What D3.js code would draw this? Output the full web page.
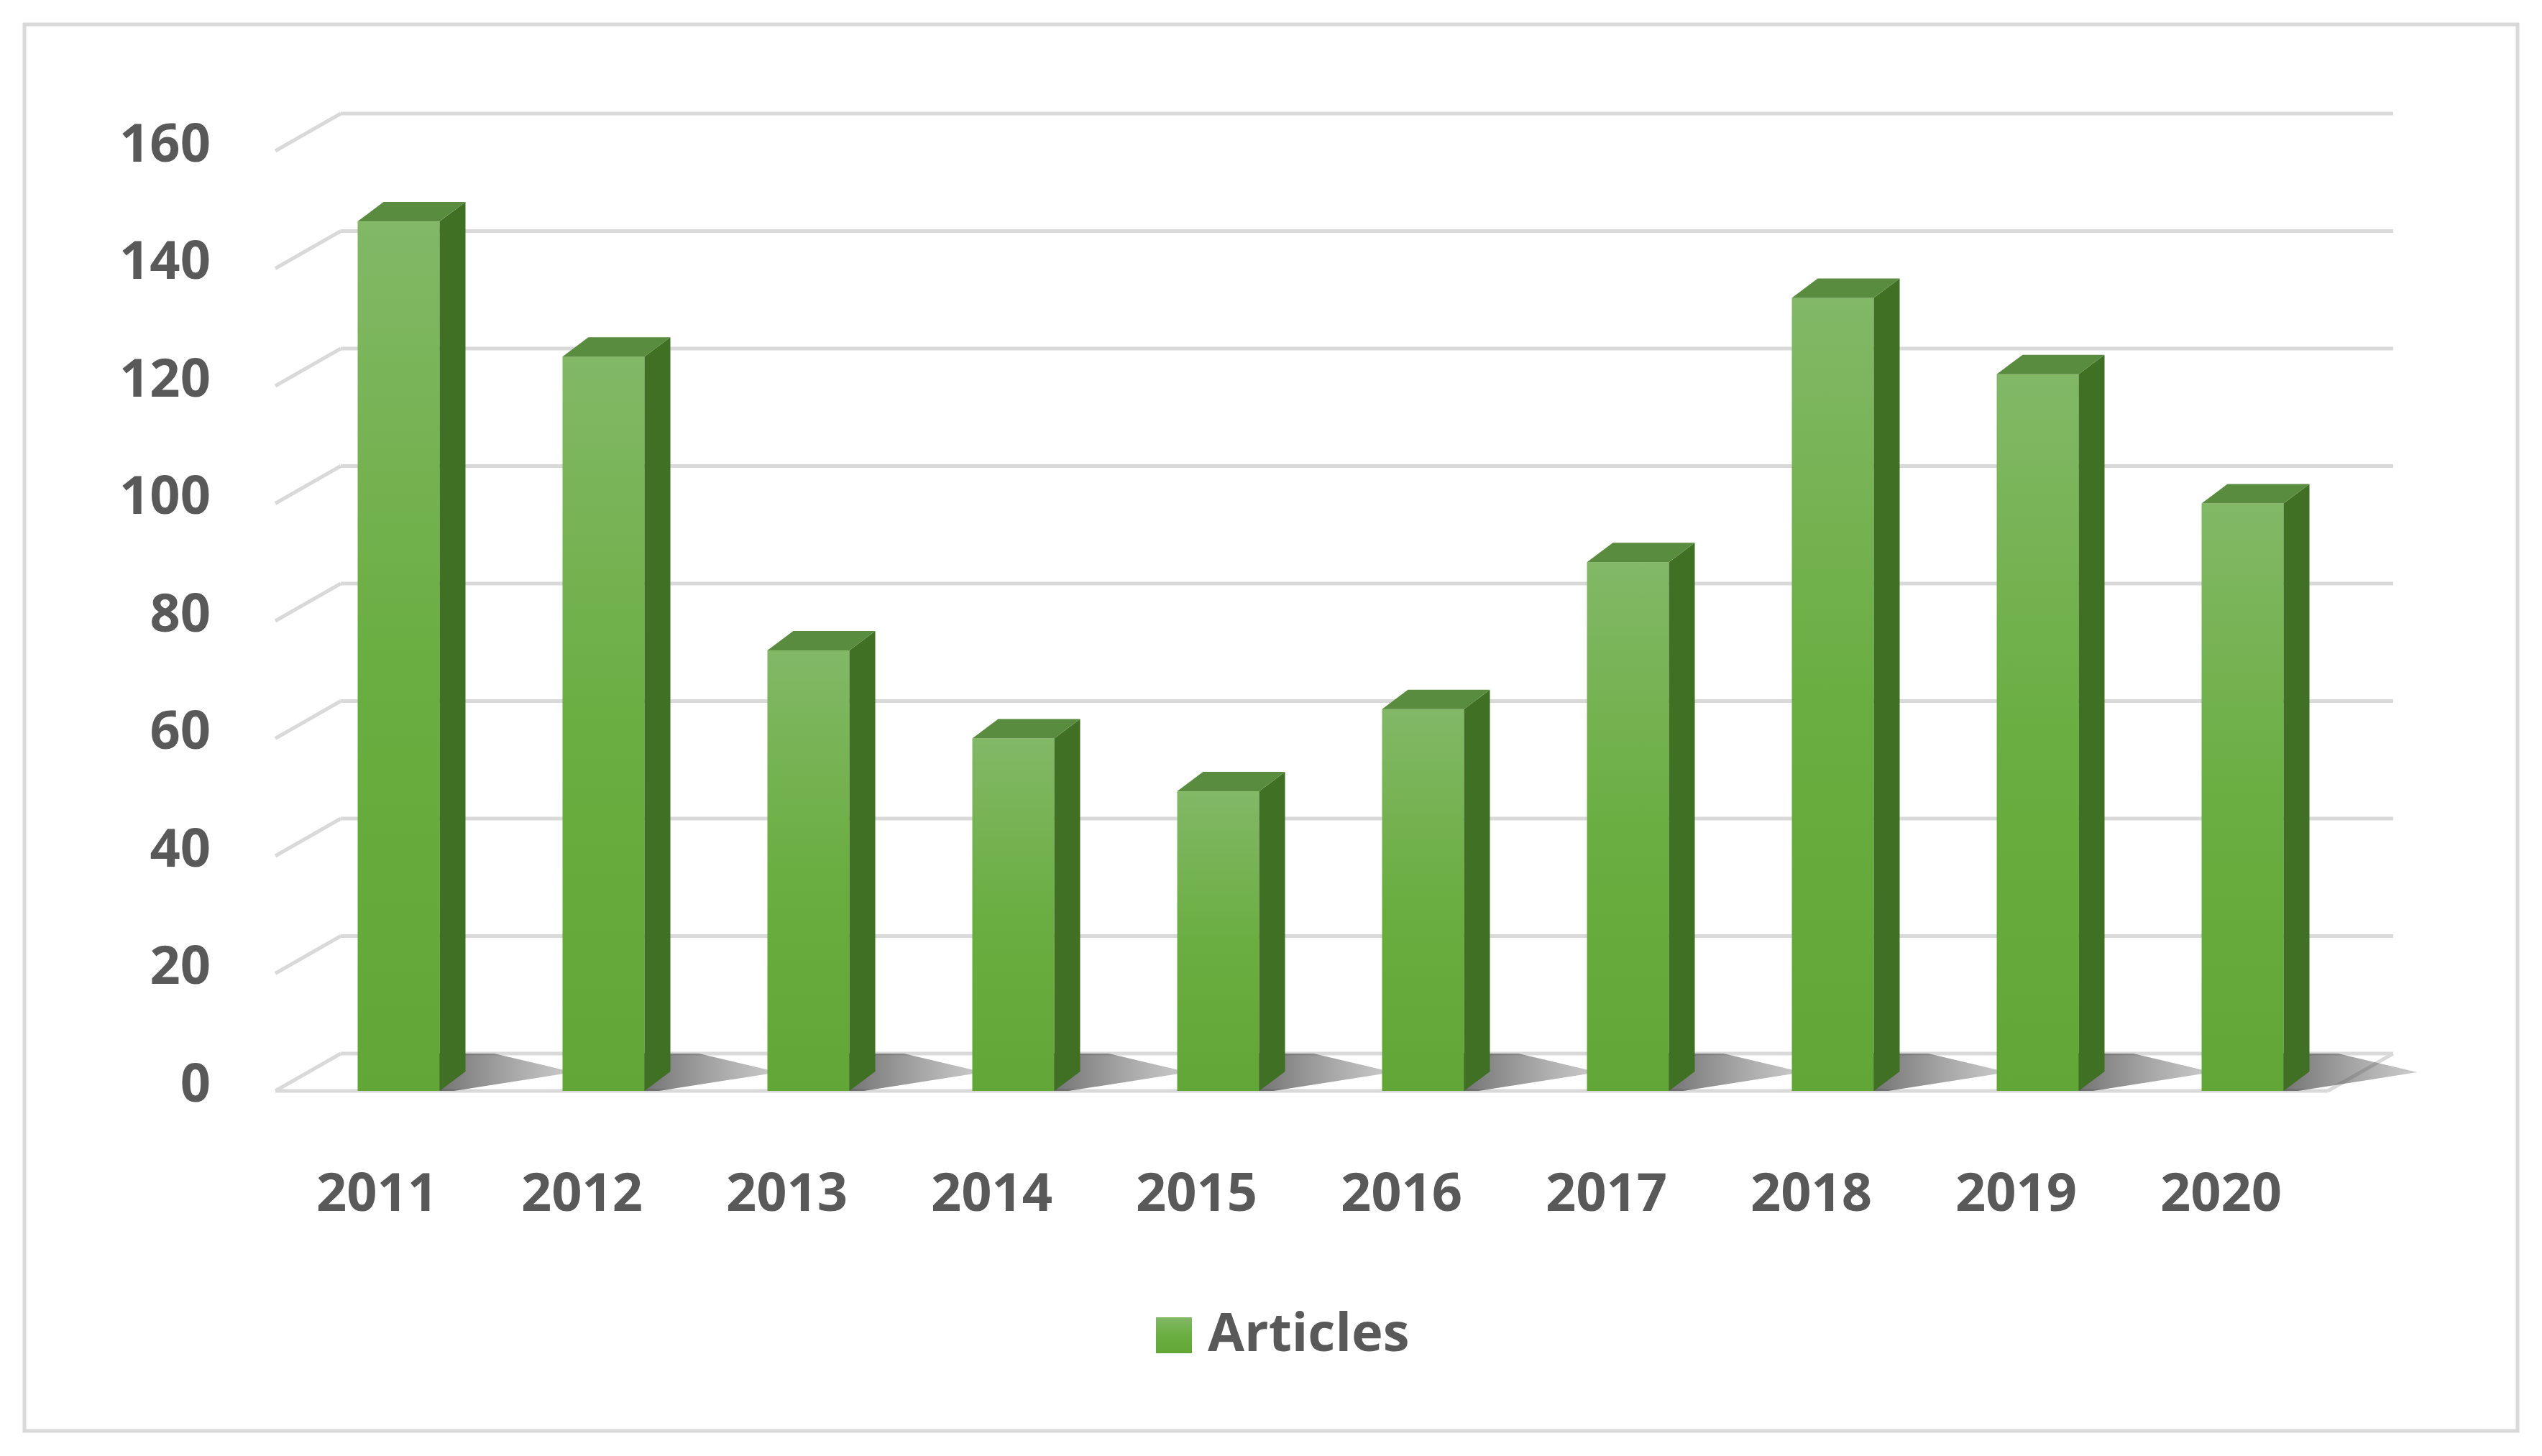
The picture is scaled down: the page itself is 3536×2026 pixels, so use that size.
<!DOCTYPE html>
<html><head><meta charset="utf-8">
<script src="https://cdn.jsdelivr.net/npm/d3@7"></script>
<style>body{margin:0;background:#fff}</style></head>
<body><svg id="c" width="3536" height="2026"></svg>
<script>
const years=["2011","2012","2013","2014","2015","2016","2017","2018","2019","2020"];
const articles=[148,125,75,60,51,65,90,135,122,100];
const yTicks=[0,20,40,60,80,100,120,140,160];
const seriesName="Articles";

const svg=d3.select("#c");
const font="'Open Sans','Noto Sans',sans-serif", tc="#595959";
svg.append("rect").attr("x",34).attr("y",34).attr("width",3468).attr("height",1957).attr("fill","#fff").attr("stroke","#d9d9d9").attr("stroke-width",5);
const defs=svg.append("defs");
const g1=defs.append("linearGradient").attr("id","fr").attr("x1",0).attr("y1",0).attr("x2",0).attr("y2",1);
g1.append("stop").attr("offset",0).attr("stop-color","#82b866");
g1.append("stop").attr("offset",0.5).attr("stop-color","#6aae41");
g1.append("stop").attr("offset",1).attr("stop-color","#62a637");
const g2=defs.append("linearGradient").attr("id","sh").attr("x1",0).attr("y1",0).attr("x2",1).attr("y2",0);
g2.append("stop").attr("offset",0).attr("stop-color","#222").attr("stop-opacity",0.9);
g2.append("stop").attr("offset",1).attr("stop-color","#555").attr("stop-opacity",0.3);

const dx=-91,dy=52; // back->front offset
const yBack=d3.scaleLinear().domain([0,160]).range([1466,158]);
const yFront=d3.scaleLinear().domain([0,160]).range([1466+dy,158+dy]);
const x=d3.scaleBand().domain(years).range([412,3262]).paddingInner(0.6).paddingOuter(0.3);
const bx0=474,bx1=3329;
const gc="#d9d9d9";
yTicks.forEach(t=>{
  const y=yBack(t);
  svg.append("line").attr("x1",bx0).attr("x2",bx1).attr("y1",y).attr("y2",y).attr("stroke",gc).attr("stroke-width",5);
  svg.append("line").attr("x1",bx0).attr("x2",bx0+dx).attr("y1",y).attr("y2",y+dy).attr("stroke",gc).attr("stroke-width",5);
  svg.append("text").attr("x",293).attr("y",yFront(t)-5).attr("text-anchor","end").attr("dominant-baseline","middle")
    .attr("font-family",font).attr("font-weight","bold").attr("font-size",74).attr("fill",tc).text(t);
});
// floor
svg.append("line").attr("x1",bx0+dx).attr("x2",bx1+dx).attr("y1",yFront(0)).attr("y2",yFront(0)).attr("stroke",gc).attr("stroke-width",5);
svg.append("line").attr("x1",bx1).attr("x2",bx1+dx).attr("y1",yBack(0)).attr("y2",yFront(0)).attr("stroke",gc).attr("stroke-width",5);
const sx=36,sy=-27,w=x.bandwidth();
const bars=svg.selectAll("g.b").data(years.map((y,i)=>({y,v:articles[i]}))).join("g");
// shadows
bars.append("path").attr("fill","url(#sh)").attr("d",d=>{
  const l=x(d.y),b=yFront(0);
  return `M${l+10},${b} L${l+w+20},${b} L${l+w+sx+150},${b-26} L${l+w+sx+40},${b-52} L${l+sx},${b-52} Z`;});
bars.append("rect").attr("x",d=>x(d.y)).attr("y",d=>yFront(d.v)).attr("width",w).attr("height",d=>yFront(0)-yFront(d.v)).attr("fill","url(#fr)");
bars.append("path").attr("fill","#3f7023").attr("d",d=>{const r=x(d.y)+w,t=yFront(d.v),b=yFront(0);
  return `M${r},${t} L${r+sx},${t+sy} L${r+sx},${b+sy} L${r},${b} Z`;});
bars.append("path").attr("fill","#5a8c3f").attr("d",d=>{const l=x(d.y),t=yFront(d.v);
  return `M${l},${t} L${l+sx},${t+sy} L${l+w+sx},${t+sy} L${l+w},${t} Z`;});
years.forEach(y=>{
  svg.append("text").attr("x",x(y)+w/2-30).attr("y",1685).attr("text-anchor","middle")
   .attr("font-family",font).attr("font-weight","bold").attr("font-size",74).attr("fill",tc).text(y);
});
svg.append("rect").attr("x",1608).attr("y",1833).attr("width",50).attr("height",50).attr("fill","url(#fr)");
svg.append("text").attr("x",1680).attr("y",1860).attr("dominant-baseline","middle").attr("font-family",font)
  .attr("font-weight","bold").attr("font-size",74).attr("fill",tc).text(seriesName);
</script></body></html>
